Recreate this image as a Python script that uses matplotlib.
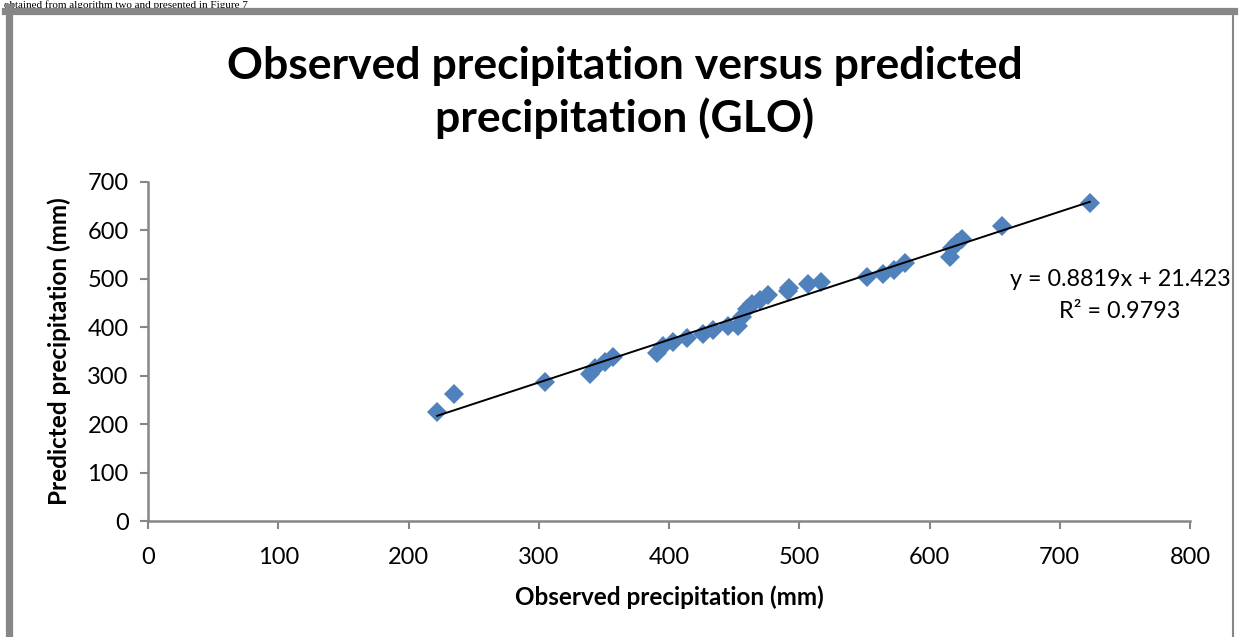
import matplotlib.pyplot as plt
from matplotlib.lines import Line2D

# observed vs predicted precipitation (mm)
observed = [222, 235, 305, 339, 343, 351, 357, 391, 395, 403, 414, 426, 434, 445,
            453, 456, 460, 464, 470, 476, 491, 492, 507, 517, 552, 564, 573, 581,
            616, 617, 621, 625, 656, 723]
predicted = [226, 263, 287, 303, 316, 328, 338, 346, 362, 369, 377, 386, 395, 402,
             403, 421, 438, 449, 456, 466, 474, 481, 490, 493, 503, 511, 518, 532,
             545, 563, 573, 582, 609, 656]

# trendline reported on the chart
slope = 0.8819
intercept = 21.423

x_ticks = [0, 100, 200, 300, 400, 500, 600, 700, 800]
y_ticks = [0, 100, 200, 300, 400, 500, 600, 700]

axis_grey = '#868686'

fig = plt.figure(figsize=(12.39, 6.37), dpi=100)
ax = fig.add_axes([0.1195, 0.1821, 0.841, 0.5322])

ax.plot(observed, predicted, linestyle='none', marker='D', markersize=10.5,
        color='#4F81BD', markeredgewidth=0)
x_line = [min(observed), max(observed)]
ax.plot(x_line, [slope * v + intercept for v in x_line], color='black', linewidth=1.4)

ax.set_xlim(0, 800)
ax.set_ylim(0, 700)
ax.set_xticks(x_ticks)
ax.set_yticks(y_ticks)
for s in ['top', 'right']:
    ax.spines[s].set_visible(False)
for s in ['left', 'bottom']:
    ax.spines[s].set_color(axis_grey)
    ax.spines[s].set_linewidth(1.8)
ax.tick_params(direction='out', length=6, width=1.5, color=axis_grey,
               labelsize=17, pad=8)
for lab in ax.get_xticklabels() + ax.get_yticklabels():
    lab.set_family('Lato')
ax.tick_params(axis='x', pad=13)

ax.set_xlabel('Observed precipitation (mm)', fontsize=17.5, fontweight='bold',
              family='Lato', labelpad=12)
ax.set_ylabel('Predicted precipitation (mm)', fontsize=17.5, fontweight='bold',
              family='Lato', labelpad=12)

fig.text(0.504, 0.855, 'Observed precipitation versus predicted\nprecipitation (GLO)',
         ha='center', va='center', fontsize=32, fontweight='bold', family='Lato',
         linespacing=1.32)

ax.text(1120 / 1239, 1 - 279 / 637, 'y = 0.8819x + 21.423', transform=fig.transFigure,
        ha='center', va='center', fontsize=16.8, family='Lato')
ax.text(1120 / 1239, 1 - 311 / 637, 'R² = 0.9793', transform=fig.transFigure,
        ha='center', va='center', fontsize=16.8, family='Lato')

# text line of the page above the chart, partly hidden by the frame
fig.text(0.003, 1 - 8 / 637, 'obtained from algorithm two and presented in Figure 7',
         ha='left', va='baseline', fontsize=8, family='Liberation Serif', zorder=1)

# grey frame of the embedded chart
fig.add_artist(Line2D([8.5 / 1239, 8.5 / 1239], [0, 1 - 7 / 637], color='#878787',
                      linewidth=5.2, transform=fig.transFigure, zorder=5))
fig.add_artist(Line2D([5 / 1239, 1234 / 1239], [1 - 10.5 / 637, 1 - 10.5 / 637],
                      color='#878787', linewidth=5.2, transform=fig.transFigure, zorder=5))
fig.add_artist(Line2D([1233 / 1239, 1233 / 1239], [0, 1 - 10 / 637], color='#878787',
                      linewidth=1.5, transform=fig.transFigure, zorder=5))

fig.savefig('out.png', dpi=100)
